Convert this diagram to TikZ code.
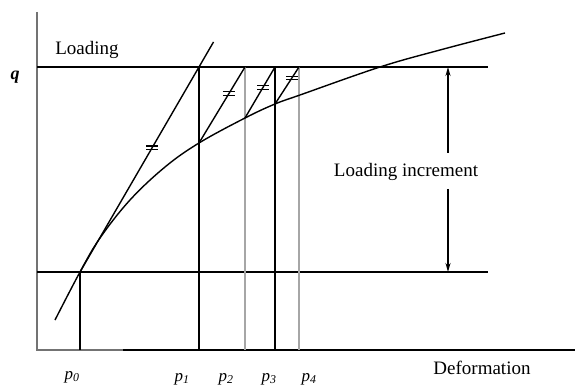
\documentclass[tikz,border=0pt]{standalone}
\usepackage{fontspec}
\setmainfont{Liberation Serif}
\usetikzlibrary{arrows.meta}
\begin{document}
\begin{tikzpicture}[x=1pt,y=-1pt,
  ln/.style={line width=1.4pt,black},
  gln/.style={line width=1.6pt,black!35},
  axl/.style={line width=1.4pt,black!55},
  lbl/.style={font=\fontsize{19}{22}\selectfont,inner sep=0pt},
  plbl/.style={font=\fontsize{17}{19}\selectfont\itshape,inner sep=0pt},
  tickmark/.style={line width=1.1pt},
  arr/.style={line width=1.3pt,-{Stealth[length=9pt,width=5pt]}}]
\useasboundingbox (0,0) rectangle (575,387);
% key points
\coordinate (O) at (37,350);
\coordinate (ytop) at (37,12);
\coordinate (xend) at (575,350);
\coordinate (xg) at (123,350);
\coordinate (qL) at (37,67);
\coordinate (qR) at (488,67);
\coordinate (bL) at (37,272);
\coordinate (bR) at (488,272);
\coordinate (c0) at (80,272);
\coordinate (c1) at (199,143);
\coordinate (c2) at (245,118);
\coordinate (c3) at (275,104);
\coordinate (t1) at (199,67);
\coordinate (t2) at (245,67);
\coordinate (t3) at (275,67);
\coordinate (t4) at (299,67);
\coordinate (tanend) at (213.5,42);
% axes
\draw[axl] (ytop) -- (O) -- (xg);
\draw[ln] (xg) -- (xend);
% horizontal lines
\draw[ln] (qL) -- (qR);
\draw[ln] (bL) -- (bR);
% verticals
\draw[ln] (c0) -- (80,350);
\draw[ln] (t1) -- (199,350);
\draw[gln] (t2) -- (245,350);
\draw[ln] (t3) -- (275,350);
\draw[gln] (t4) -- (299,350);
% curve
\draw[ln] plot[smooth,tension=0.6] coordinates {(55,320) (80,272) (100,238) (130,200) (165,167) (199,143) (245,118) (275,104) (300,95) (380,67) (440,50) (505,33)};
% tangent & secants with tick marks
\draw[ln] (c0) -- (tanend) node[pos=0.54,inner sep=0pt] (m1) {};
\draw[ln] (c1) -- (t2) node[pos=0.65,inner sep=0pt] (m2) {};
\draw[ln] (c2) -- (t3) node[pos=0.6,inner sep=0pt] (m3) {};
\draw[ln] (c3) -- (t4) node[pos=0.7,inner sep=0pt] (m4) {};
\foreach \m in {m1,m2,m3,m4}{
  \draw[tickmark] ([shift={(-6,-1.8)}]\m.center) -- ([shift={(6,-1.8)}]\m.center);
  \draw[tickmark] ([shift={(-6,1.8)}]\m.center) -- ([shift={(6,1.8)}]\m.center);
}
% loading increment arrows
\node[lbl] (inc) at (406,172) {Loading increment};
\coordinate (a1) at (448,153);
\coordinate (a2) at (448,189);
\draw[arr] (a1) -- (448,67);
\draw[arr] (a2) -- (448,272);
% labels
\node[lbl] (loading) at (87,50) {Loading};
\node[font=\fontsize{18}{20}\selectfont\itshape\bfseries,inner sep=0pt] (q) at (15,77) {q};
\node[lbl] (def) at (482,368) {Deformation};
\node[plbl] (p0) at (72,377) {p\textsubscript{0}};
\node[plbl] (p1) at (182,379) {p\textsubscript{1}};
\node[plbl] (p2) at (226,379) {p\textsubscript{2}};
\node[plbl] (p3) at (269,379) {p\textsubscript{3}};
\node[plbl] (p4) at (309,379) {p\textsubscript{4}};
\end{tikzpicture}
\end{document}
